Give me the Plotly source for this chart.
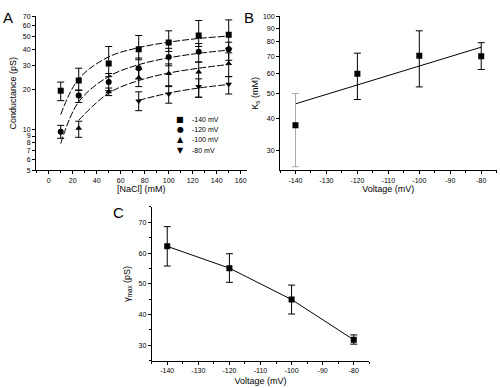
import plotly.graph_objects as go

W, H = 500, 388
def px(x): return x / W
def py(y): return 1 - y / H

# ---------- Panel A data ----------
nacl = [10, 25, 50, 75, 100, 125, 150]
g140 = [19.6, 23.3, 31.2, 39.9, 44.7, 50.5, 51.2]
g140_up = [22.7, 28.8, 41.8, 50.5, 54.7, 65.3, 66.0]
g140_lo = [16.5, 19.7, 24.9, 33.3, 38.4, 41.8, 40.5]

g120 = [9.7, 18.0, 22.7, 28.8, 34.9, 38.2, 39.9]
g120_up = [10.8, 19.8, 26.3, 34.3, 40.5, 44.0, 45.0]
g120_lo = [8.65, 16.0, 19.6, 24.0, 30.0, 32.0, 33.0]

nacl100 = [25, 50, 75, 100, 125, 150]
g100 = [10.3, 19.2, 24.4, 26.3, 27.0, 31.2]
g100_up = [11.6, 20.5, 28.4, 31.0, 32.0, 37.5]
g100_lo = [8.8, 18.0, 21.0, 21.0, 17.5, 24.9]

nacl80 = [75, 100, 125, 150]
g80 = [16.4, 18.5, 21.0, 21.9]
g80_up = [19.2, 21.3, 24.0, 25.0]
g80_lo = [13.9, 15.8, 17.5, 18.5]

# fitted curves
fit140 = [13.0, 24.0, 35.0, 41.0, 45.0, 48.0, 50.0]
fit120 = [7.9, 16.2, 25.0, 30.6, 34.4, 37.2, 39.3]
fit100 = [11.8, 18.8, 23.3, 26.5, 28.8, 30.7]
fit80 = [16.6, 18.8, 20.5, 21.8]

legend_names = ["-140 mV", "-120 mV", "-100 mV", "-80 mV"]
legend_glyphs = ["■", "●", "▲", "▼"]

# ---------- Panel B data ----------
volt = [-140, -120, -100, -80]
ks = [37.6, 59.8, 70.2, 70.0]
ks_up = [50.0, 71.9, 87.9, 79.0]
ks_lo = [25.9, 47.4, 53.1, 62.1]
ks_fit_x = [-140, -80]
ks_fit_y = [45.6, 75.9]

# ---------- Panel C data ----------
gmax = [62.2, 55.1, 44.9, 31.8]
gmax_up = [68.6, 59.8, 49.6, 33.4]
gmax_lo = [55.8, 50.5, 40.2, 30.4]

volt_ticks = [-140, -130, -120, -110, -100, -90, -80]
volt_ticktext = ["-140", "-130", "-120", "-110", "-100", "-90", "-80"]
a_yticks = [5, 6, 7, 8, 9, 10, 20, 30, 40, 50, 60, 70]
b_yticks = [30, 40, 50, 60, 70, 80, 90, 100]

FONT = "Liberation Sans, Arial, sans-serif"
fig = go.Figure()

def err(y, up, lo, color="black"):
    return dict(type="data", symmetric=False,
                array=[u - v for u, v in zip(up, y)],
                arrayminus=[v - l for v, l in zip(y, lo)],
                color=color, thickness=1, width=3.5)

# fits A
for xs, ys in [(nacl, fit140), (nacl, fit120), (nacl100, fit100), (nacl80, fit80)]:
    fig.add_trace(go.Scatter(x=xs, y=ys, mode="lines",
                             line=dict(color="black", width=1, dash="7px,2px", shape="spline"),
                             showlegend=False, xaxis="x", yaxis="y", hoverinfo="skip"))

series = [(legend_names[0], nacl, g140, g140_up, g140_lo, "square"),
          (legend_names[1], nacl, g120, g120_up, g120_lo, "circle"),
          (legend_names[2], nacl100, g100, g100_up, g100_lo, "triangle-up"),
          (legend_names[3], nacl80, g80, g80_up, g80_lo, "triangle-down")]
for name, xs, ys, up, lo, sym in series:
    fig.add_trace(go.Scatter(x=xs, y=ys, mode="markers", name=name, showlegend=False,
                             marker=dict(symbol=sym, size=6, color="black"),
                             error_y=err(ys, up, lo), xaxis="x", yaxis="y"))

# Panel B
fig.add_trace(go.Scatter(x=ks_fit_x, y=ks_fit_y, mode="lines", line=dict(color="black", width=1),
                         showlegend=False, xaxis="x2", yaxis="y2"))
fig.add_trace(go.Scatter(x=volt[:1], y=ks[:1], mode="markers", marker=dict(symbol="square", size=6, color="black"),
                         error_y=err(ks[:1], ks_up[:1], ks_lo[:1], "#aaaaaa"), showlegend=False, xaxis="x2", yaxis="y2"))
fig.add_trace(go.Scatter(x=volt[1:], y=ks[1:], mode="markers", marker=dict(symbol="square", size=6, color="black"),
                         error_y=err(ks[1:], ks_up[1:], ks_lo[1:]), showlegend=False, xaxis="x2", yaxis="y2"))

# Panel C
fig.add_trace(go.Scatter(x=volt, y=gmax, mode="lines+markers", line=dict(color="black", width=1),
                         marker=dict(symbol="square", size=6, color="black"),
                         error_y=err(gmax, gmax_up, gmax_lo), showlegend=False, xaxis="x3", yaxis="y3"))

tickfont = dict(family=FONT, size=7, color="black")
titlefont = dict(family=FONT, size=9, color="black")
common = dict(showline=True, linecolor="black", linewidth=1, ticks="outside", ticklen=3, tickcolor="black",
              tickfont=tickfont, showgrid=False, zeroline=False, mirror=False)

annotations = [
    dict(text="A", x=px(1), y=py(3), xref="paper", yref="paper", xanchor="left", yanchor="top",
         showarrow=False, font=dict(family=FONT, size=15, color="black")),
    dict(text="B", x=px(242), y=py(3), xref="paper", yref="paper", xanchor="left", yanchor="top",
         showarrow=False, font=dict(family=FONT, size=15, color="black")),
    dict(text="C", x=px(111), y=py(202), xref="paper", yref="paper", xanchor="left", yanchor="top",
         showarrow=False, font=dict(family=FONT, size=15, color="black")),
]
leg_y = [118, 128, 138, 149]
for g, n, yy in zip(legend_glyphs, legend_names, leg_y):
    annotations.append(dict(text=g, x=px(180), y=py(yy), xref="paper", yref="paper", xanchor="center",
                            yanchor="middle", showarrow=False, font=dict(family="DejaVu Sans", size=8, color="black")))
    annotations.append(dict(text=n, x=px(190), y=py(yy), xref="paper", yref="paper", xanchor="left",
                            yanchor="middle", showarrow=False, font=dict(family=FONT, size=7, color="black")))

fig.update_layout(
    width=W, height=H, margin=dict(l=0, r=0, t=0, b=0),
    paper_bgcolor="white", plot_bgcolor="white",
    font=dict(family=FONT, color="black"),
    showlegend=False,
    xaxis=dict(domain=[px(36), px(246.7)], range=[-10.6, 165], anchor="y", dtick=20, tick0=0,
               minor=dict(dtick=10, ticks="outside", ticklen=2, tickcolor="black"),
               title=dict(text="[NaCl] (mM)", font=titlefont, standoff=1), **common),
    yaxis=dict(domain=[py(169.3), py(12.7)], type="log", range=[0.699, 1.845], anchor="x",
               tickvals=a_yticks, ticktext=[str(v) for v in a_yticks],
               title=dict(text="Conductance (pS)", font=titlefont, standoff=4), **common),
    xaxis2=dict(domain=[px(280), px(496.7)], range=[-145, -75], anchor="y2",
                tickvals=volt_ticks, ticktext=volt_ticktext,
                minor=dict(dtick=5, tick0=-145, ticks="outside", ticklen=2, tickcolor="black"),
                title=dict(text="Voltage (mV)", font=titlefont, standoff=2), **common),
    yaxis2=dict(domain=[py(169.3), py(12.7)], type="log", range=[1.3997, 2.0], anchor="x2",
                tickvals=b_yticks, ticktext=[str(v) for v in b_yticks],
                title=dict(text="K<sub>s</sub> (mM)", font=titlefont, standoff=2), **common),
    xaxis3=dict(domain=[px(151.7), px(369.3)], range=[-145, -75], anchor="y3",
                tickvals=volt_ticks, ticktext=volt_ticktext,
                minor=dict(dtick=5, tick0=-145, ticks="outside", ticklen=2, tickcolor="black"),
                title=dict(text="Voltage (mV)", font=titlefont, standoff=4), **common),
    yaxis3=dict(domain=[py(363.3), py(206.7)], range=[25, 75], anchor="x3", dtick=10, tick0=0,
                minor=dict(dtick=5, ticks="outside", ticklen=2, tickcolor="black"),
                title=dict(text="γ<sub>max</sub> (pS)", font=titlefont, standoff=6), **common),
    annotations=annotations,
)

fig.write_html("out.html", config={"displayModeBar": False, "staticPlot": True})

# remove the default page margin so the figure sits at the window's top-left corner
with open("out.html", "r", encoding="utf-8") as f:
    html = f.read()
html = html.replace("<head>", "<head><style>html,body{margin:0;padding:0;overflow:hidden;}</style>", 1)
with open("out.html", "w", encoding="utf-8") as f:
    f.write(html)
